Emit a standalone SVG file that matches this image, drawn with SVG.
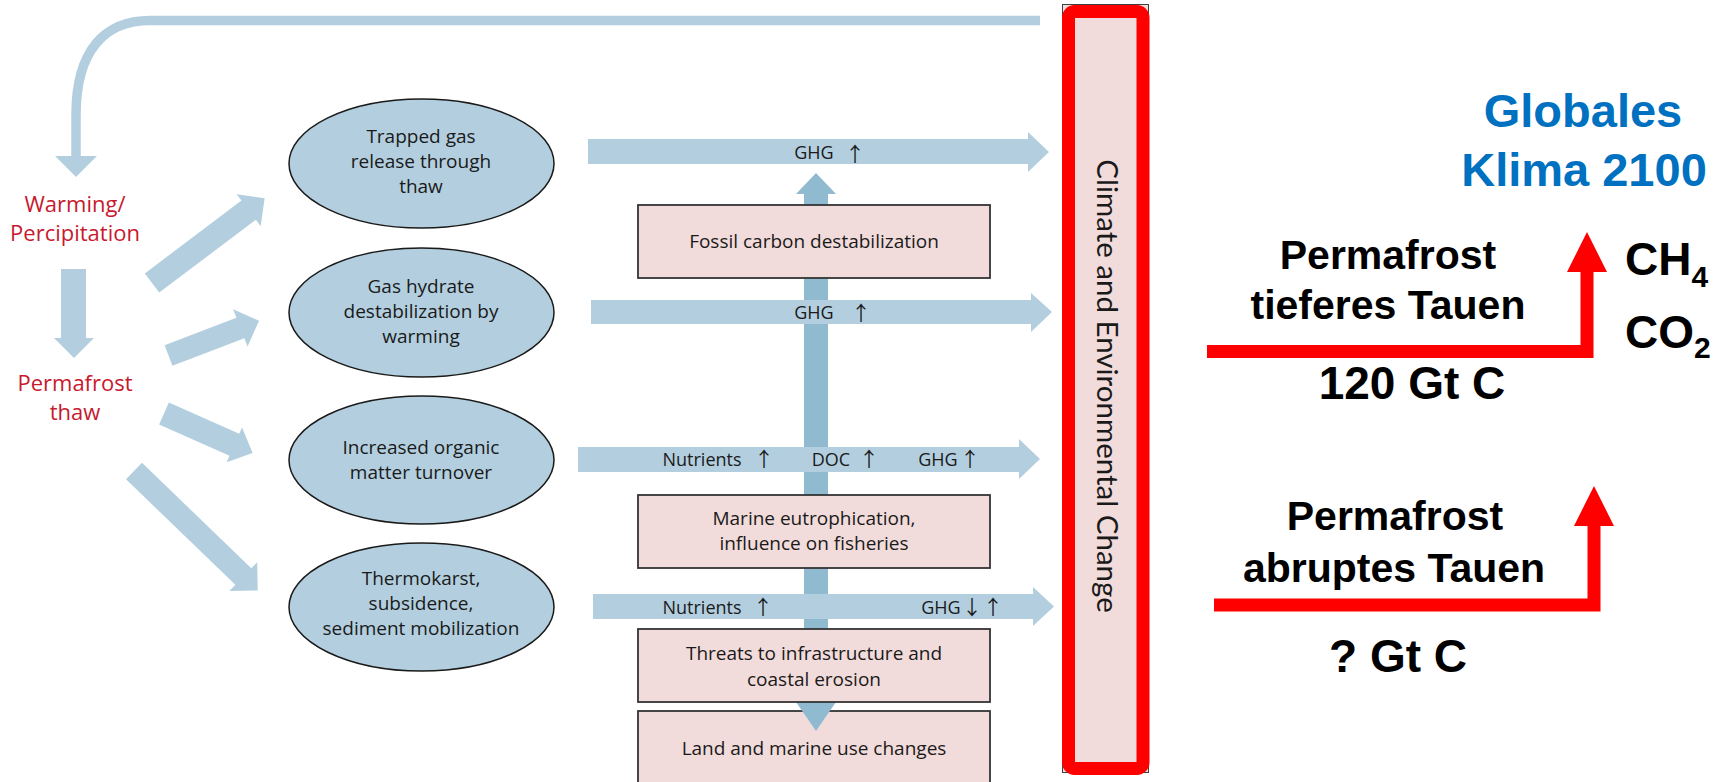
<svg xmlns="http://www.w3.org/2000/svg" width="1725" height="782" viewBox="0 0 1725 782">
<style>
.lb{fill:#b3cfdf}
.db{fill:#8fbad0}
.ell{fill:#b3cfdf;stroke:#1a1a1a;stroke-width:1.5}
.box{fill:#f2dcdb;stroke:#333;stroke-width:1.8}
.red{fill:#c8192e;font-family:'Open Sans','Noto Sans',sans-serif;font-size:22px;text-anchor:middle}
.et{fill:#1a1a1a;font-family:'Open Sans','Noto Sans',sans-serif;font-size:19px;text-anchor:middle}
.at{fill:#1a1a1a;font-family:'Open Sans','Noto Sans',sans-serif;font-size:18px;text-anchor:middle}
.ar{fill:#1a1a1a;font-family:'Noto Sans CJK JP','Liberation Sans',sans-serif;font-size:20px;text-anchor:middle}
.big{font-family:'Liberation Sans',Arial,sans-serif;font-weight:bold;text-anchor:middle;fill:#000}
.rl{fill:none;stroke:#ff0000;stroke-width:13;stroke-linejoin:miter}
</style>
<rect width="1725" height="782" fill="#fff"/>

<g id="connectors">
  <path d="M1040,20.5 H150 C105,20.5 76,50 76,115 V157" fill="none" stroke="#b3cfdf" stroke-width="9.5"/>
  <polygon class="lb" points="55,156 97,156 76,177"/>
  <polygon class="lb" points="61,269 86,269 86,338 94,338 74,358 54,338 61,338"/>
  <polygon class="lb" transform="translate(152,283) rotate(-37)" points="0,-12 121,-12 121,-20 141,0 121,20 121,12 0,12"/>
  <polygon class="lb" transform="translate(168.5,355.5) rotate(-21)" points="0,-11 77,-11 77,-20 97,0 77,20 77,11 0,11"/>
  <polygon class="lb" transform="translate(164,413.5) rotate(24)" points="0,-12 77,-12 77,-19 97,0 77,19 77,12 0,12"/>
  <polygon class="lb" transform="translate(134,471) rotate(44)" points="0,-11.5 152,-11.5 152,-20 172,0 152,20 152,11.5 0,11.5"/>
</g>

<g id="box-land">
  <rect class="box" x="638" y="711" width="352" height="90"/>
  <text class="et" x="814" y="755">Land and marine use changes</text>
</g>

<g id="vertical-arrow">
  <polygon class="db" points="804,194 796,194 816,173 836,194 828,194 828,702 836,702 816,731 796,702 804,702"/>
</g>

<g id="box-fossil">
  <rect class="box" x="638" y="205" width="352" height="73"/>
  <text class="et" x="814" y="248">Fossil carbon destabilization</text>
</g>
<g id="box-marine">
  <rect class="box" x="638" y="495" width="352" height="73"/>
  <text class="et" x="814" y="525">Marine eutrophication,</text>
  <text class="et" x="814" y="550">influence on fisheries</text>
</g>
<g id="box-threats">
  <rect class="box" x="638" y="629" width="352" height="73"/>
  <text class="et" x="814" y="660">Threats to infrastructure and</text>
  <text class="et" x="814" y="686">coastal erosion</text>
</g>

<g id="flow-arrows">
  <polygon class="lb" points="588,139 1028,139 1028,132 1049,152 1028,172 1028,164 588,164"/>
  <text class="at" x="814" y="159">GHG</text>
  <text class="ar" x="855" y="162">↑</text>
  <polygon class="lb" points="591,300 1031,300 1031,293 1052,312 1031,332 1031,324 591,324"/>
  <text class="at" x="814" y="319">GHG</text>
  <text class="ar" x="861" y="321">↑</text>
  <polygon class="lb" points="578,447 1019,447 1019,439 1040,459 1019,479 1019,472 578,472"/>
  <text class="at" x="702" y="466">Nutrients</text>
  <text class="ar" x="764" y="467">↑</text>
  <text class="at" x="831" y="466">DOC</text>
  <text class="ar" x="869" y="467">↑</text>
  <text class="at" x="938" y="466">GHG</text>
  <text class="ar" x="970" y="467">↑</text>
  <polygon class="lb" points="593,594 1033,594 1033,587 1054,606.5 1033,626 1033,619 593,619"/>
  <text class="at" x="702" y="614">Nutrients</text>
  <text class="ar" x="763" y="615">↑</text>
  <text class="at" x="941" y="614">GHG</text>
  <text class="ar" x="972" y="615">↓</text>
  <text class="ar" x="993" y="615">↑</text>
</g>

<g id="warming">
  <text class="red" x="75" y="212">Warming/</text>
  <text class="red" x="75" y="241">Percipitation</text>
</g>
<g id="permafrost-thaw">
  <text class="red" x="75" y="391">Permafrost</text>
  <text class="red" x="75" y="420">thaw</text>
</g>

<g id="ell-trapped">
  <ellipse class="ell" cx="421.5" cy="163.5" rx="132.5" ry="64.5"/>
  <text class="et" x="421" y="143">Trapped gas</text>
  <text class="et" x="421" y="168">release through</text>
  <text class="et" x="421" y="193">thaw</text>
</g>
<g id="ell-hydrate">
  <ellipse class="ell" cx="421.5" cy="312.5" rx="132.5" ry="64.5"/>
  <text class="et" x="421" y="293">Gas hydrate</text>
  <text class="et" x="421" y="318">destabilization by</text>
  <text class="et" x="421" y="343">warming</text>
</g>
<g id="ell-organic">
  <ellipse class="ell" cx="421.5" cy="460" rx="132.5" ry="64"/>
  <text class="et" x="421" y="454">Increased organic</text>
  <text class="et" x="421" y="479">matter turnover</text>
</g>
<g id="ell-thermokarst">
  <ellipse class="ell" cx="421.5" cy="607" rx="132.5" ry="64"/>
  <text class="et" x="421" y="585">Thermokarst,</text>
  <text class="et" x="421" y="610">subsidence,</text>
  <text class="et" x="421" y="635">sediment mobilization</text>
</g>

<g id="climate-change">
  <rect x="1062.5" y="4.5" width="86" height="768" fill="#f2dcdb" stroke="#404040" stroke-width="1"/>
  <rect x="1068.5" y="11.5" width="74.5" height="757" rx="6" fill="none" stroke="#ff0000" stroke-width="13"/>
  <text transform="translate(1097,386) rotate(90)" text-anchor="middle" font-family="Lato,'Open Sans',sans-serif" font-size="29.5" fill="#1a1a1a">Climate and Environmental Change</text>
</g>

<g id="globales">
  <text class="big" x="1583" y="127" font-size="47" style="fill:#0070c0">Globales</text>
  <text class="big" x="1584" y="186" font-size="47" style="fill:#0070c0">Klima 2100</text>
</g>

<g id="deep-thaw">
  <text class="big" x="1388" y="269" font-size="41">Permafrost</text>
  <text class="big" x="1388" y="319" font-size="41">tieferes Tauen</text>
  <path class="rl" d="M1207,351.5 H1587 V271"/>
  <polygon fill="#ff0000" points="1567,272 1607,272 1587,232"/>
  <text class="big" x="1412" y="399" font-size="46">120 Gt C</text>
</g>

<g id="gases">
  <text class="big" x="1625" y="275" font-size="46" style="text-anchor:start">CH<tspan font-size="30" dy="12">4</tspan></text>
  <text class="big" x="1625" y="348" font-size="46" style="text-anchor:start">CO<tspan font-size="30" dy="10">2</tspan></text>
</g>

<g id="abrupt-thaw">
  <text class="big" x="1395" y="530" font-size="41">Permafrost</text>
  <text class="big" x="1394" y="582" font-size="41">abruptes Tauen</text>
  <path class="rl" d="M1214,605 H1594 V525"/>
  <polygon fill="#ff0000" points="1574,526 1614,526 1594,486"/>
  <text class="big" x="1398" y="672" font-size="46">? Gt C</text>
</g>
</svg>
